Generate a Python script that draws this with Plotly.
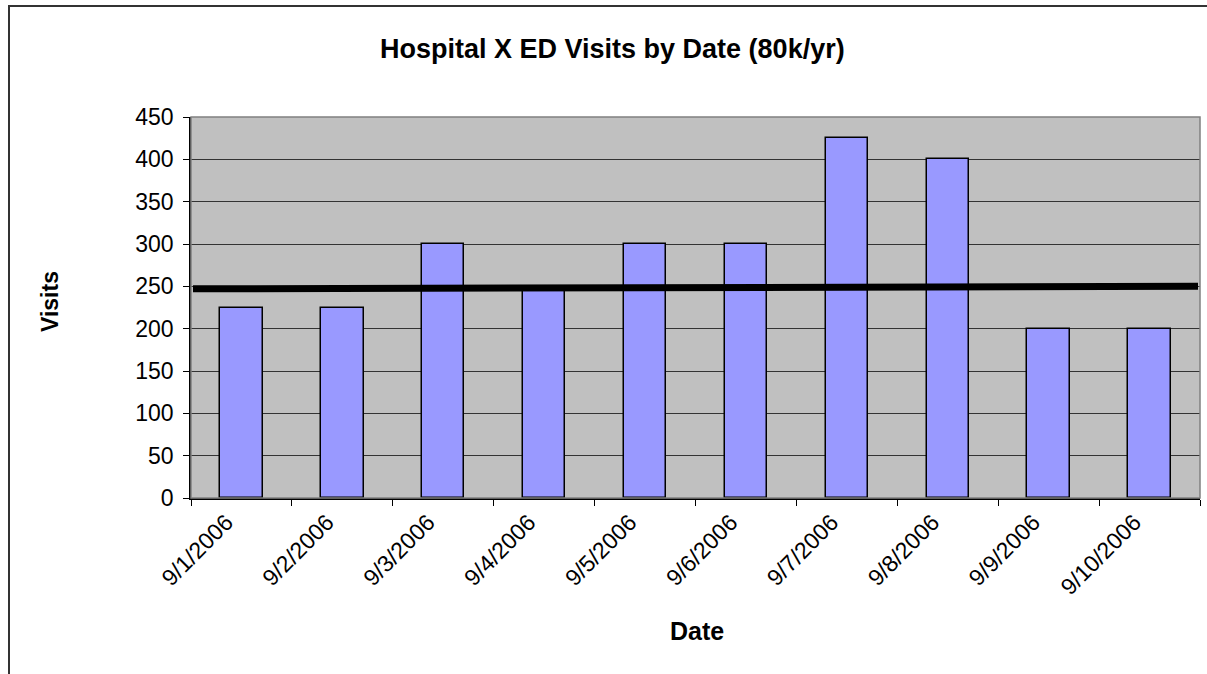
import plotly.graph_objects as go

dates = ["9/1/2006", "9/2/2006", "9/3/2006", "9/4/2006", "9/5/2006",
         "9/6/2006", "9/7/2006", "9/8/2006", "9/9/2006", "9/10/2006"]
visits = [225, 225, 300, 245, 300, 300, 425, 400, 200, 200]
ref_line = [247, 250]  # thick reference line, start and end values

W, H = 1207, 674
L, R, T, B = 191, 7, 117, 176
pw, ph = W - L - R, H - T - B

def px_x(p):
    return (p - L) / pw

def px_y(p):
    return (H - B - p) / ph

idx = list(range(len(dates)))

fig = go.Figure()
fig.add_trace(go.Bar(
    x=idx, y=visits, width=0.42,
    marker=dict(color="#9999FF", line=dict(color="black", width=1.5)),
    showlegend=False, hoverinfo="y"))
fig.add_trace(go.Scatter(
    x=[-0.48, len(dates) - 0.52], y=ref_line, mode="lines",
    line=dict(color="black", width=7), showlegend=False))

font = "Liberation Sans, Arial, sans-serif"
fig.update_layout(
    width=W, height=H,
    margin=dict(l=L, r=R, t=T, b=B, pad=0),
    paper_bgcolor="white", plot_bgcolor="#C0C0C0",
    font=dict(family=font, color="black", size=23),
    xaxis=dict(
        range=[-0.5, len(dates) - 0.5],
        tickmode="array", tickvals=[i - 0.15 for i in idx], ticktext=dates,
        tickangle=-45, ticks="", showgrid=False, zeroline=False,
        showline=True, linecolor="black", linewidth=1.5,
        tickfont=dict(size=23),
        minor=dict(tickmode="linear", tick0=-0.5, dtick=1, ticks="outside",
                   ticklen=6, tickcolor="black", tickwidth=1, showgrid=False),
    ),
    yaxis=dict(
        range=[0, 450], tickmode="linear", tick0=0, dtick=50,
        ticks="outside", ticklen=6, tickcolor="black",
        showgrid=True, gridcolor="#333333", gridwidth=1,
        zeroline=False, showline=True, linecolor="black", linewidth=1.5,
        tickfont=dict(size=23), ticklabelstandoff=5,
    ),
    shapes=[
        dict(type="rect", xref="paper", yref="paper",
             x0=0, x1=1, y0=0, y1=1, line=dict(color="#808080", width=1.5),
             fillcolor="rgba(0,0,0,0)", layer="above"),
        dict(type="rect", xref="paper", yref="paper",
             x0=px_x(9), x1=px_x(1212), y0=px_y(690), y1=px_y(6),
             line=dict(color="#333333", width=2), fillcolor="rgba(0,0,0,0)"),
    ],
    annotations=[
        dict(text="<b>Hospital X ED Visits by Date (80k/yr)</b>", xref="paper", yref="paper",
             x=px_x(612), y=px_y(49), showarrow=False, font=dict(size=27),
             xanchor="center", yanchor="middle"),
        dict(text="<b>Visits</b>", xref="paper", yref="paper",
             x=px_x(50), y=px_y(302), showarrow=False, font=dict(size=23),
             textangle=-90, xanchor="center", yanchor="middle"),
        dict(text="<b>Date</b>", xref="paper", yref="paper",
             x=px_x(697), y=px_y(631), showarrow=False, font=dict(size=25),
             xanchor="center", yanchor="middle"),
    ],
    bargap=0,
)

fig.write_html("out.html")
